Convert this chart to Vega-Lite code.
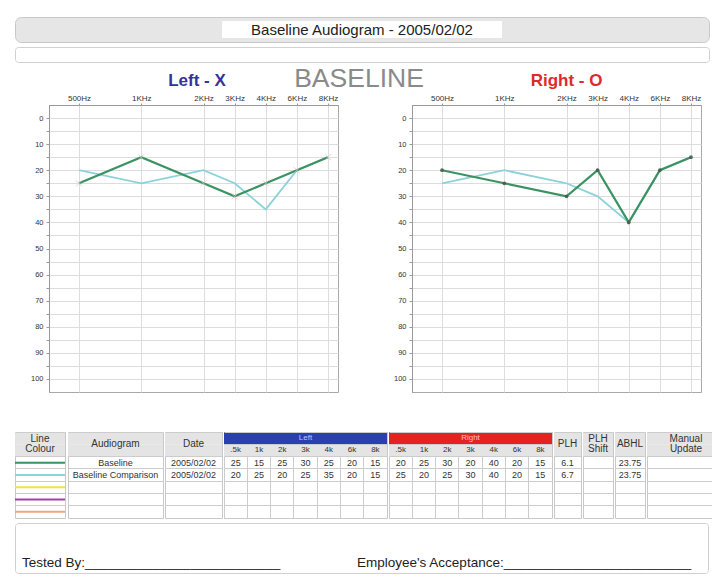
{
  "$schema": "https://vega.github.io/schema/vega-lite/v6.json",
  "padding": {"top": 16, "left": 13, "right": 2, "bottom": 2},
  "background": "white",
  "config": {
    "font": "Liberation Sans",
    "view": {"stroke": "#c8c8c8"}
  },
  "datasets": {
    "aud": [
      {"ear": "Left", "series": "Baseline", "freq": "500Hz", "short": ".5k", "db": 25},
      {"ear": "Left", "series": "Baseline", "freq": "1KHz", "short": "1k", "db": 15},
      {"ear": "Left", "series": "Baseline", "freq": "2KHz", "short": "2k", "db": 25},
      {"ear": "Left", "series": "Baseline", "freq": "3KHz", "short": "3k", "db": 30},
      {"ear": "Left", "series": "Baseline", "freq": "4KHz", "short": "4k", "db": 25},
      {"ear": "Left", "series": "Baseline", "freq": "6KHz", "short": "6k", "db": 20},
      {"ear": "Left", "series": "Baseline", "freq": "8KHz", "short": "8k", "db": 15},
      {"ear": "Left", "series": "Baseline Comparison", "freq": "500Hz", "short": ".5k", "db": 20},
      {"ear": "Left", "series": "Baseline Comparison", "freq": "1KHz", "short": "1k", "db": 25},
      {"ear": "Left", "series": "Baseline Comparison", "freq": "2KHz", "short": "2k", "db": 20},
      {"ear": "Left", "series": "Baseline Comparison", "freq": "3KHz", "short": "3k", "db": 25},
      {"ear": "Left", "series": "Baseline Comparison", "freq": "4KHz", "short": "4k", "db": 35},
      {"ear": "Left", "series": "Baseline Comparison", "freq": "6KHz", "short": "6k", "db": 20},
      {"ear": "Left", "series": "Baseline Comparison", "freq": "8KHz", "short": "8k", "db": 15},
      {"ear": "Right", "series": "Baseline", "freq": "500Hz", "short": ".5k", "db": 20},
      {"ear": "Right", "series": "Baseline", "freq": "1KHz", "short": "1k", "db": 25},
      {"ear": "Right", "series": "Baseline", "freq": "2KHz", "short": "2k", "db": 30},
      {"ear": "Right", "series": "Baseline", "freq": "3KHz", "short": "3k", "db": 20},
      {"ear": "Right", "series": "Baseline", "freq": "4KHz", "short": "4k", "db": 40},
      {"ear": "Right", "series": "Baseline", "freq": "6KHz", "short": "6k", "db": 20},
      {"ear": "Right", "series": "Baseline", "freq": "8KHz", "short": "8k", "db": 15},
      {"ear": "Right", "series": "Baseline Comparison", "freq": "500Hz", "short": ".5k", "db": 25},
      {"ear": "Right", "series": "Baseline Comparison", "freq": "1KHz", "short": "1k", "db": 20},
      {"ear": "Right", "series": "Baseline Comparison", "freq": "2KHz", "short": "2k", "db": 25},
      {"ear": "Right", "series": "Baseline Comparison", "freq": "3KHz", "short": "3k", "db": 30},
      {"ear": "Right", "series": "Baseline Comparison", "freq": "4KHz", "short": "4k", "db": 40},
      {"ear": "Right", "series": "Baseline Comparison", "freq": "6KHz", "short": "6k", "db": 20},
      {"ear": "Right", "series": "Baseline Comparison", "freq": "8KHz", "short": "8k", "db": 15}
    ],
    "rows": [
      {"series": "Baseline", "name": "Baseline", "date": "2005/02/02", "plh": "6.1", "abhl": "23.75"},
      {"series": "Baseline Comparison", "name": "Baseline Comparison", "date": "2005/02/02", "plh": "6.7", "abhl": "23.75"},
      {"series": "Series 3"},
      {"series": "Series 4"},
      {"series": "Series 5"}
    ]
  },
  "spacing": 3,
  "vconcat": [
    {
      "width": 694, "height": 25,
      "view": {"fill": "#e6e6e6", "stroke": "#c8c8c8", "cornerRadius": 6},
      "data": {"values": [{"title": "Baseline Audiogram - 2005/02/02"}]},
      "layer": [
        {"mark": {"type": "point", "shape": "M-1,-0.06H1V0.06H-1Z", "filled": true, "fill": "white", "opacity": 1, "size": 78400, "strokeWidth": 0}, "encoding": {}},
        {"mark": {"type": "text", "fontSize": 15, "color": "#222222"}, "encoding": {"text": {"field": "title"}}}
      ]
    },
    {
      "width": 694, "height": 15,
      "view": {"fill": "white", "stroke": "#d0d0d0", "cornerRadius": 3},
      "data": {"values": [{"t": ""}]},
      "mark": {"type": "text"},
      "encoding": {"text": {"field": "t"}}
    },
    {
      "spacing": 38,
      "vconcat": [
        {
          "spacing": 0,
          "hconcat": [
            {
              "width": 1, "height": 1,
              "view": {"stroke": null},
              "data": {"values": [{"t": ""}]},
              "mark": {"type": "text"},
              "encoding": {"text": {"field": "t"}}
            },
            {
              "title": {"text": "BASELINE", "fontSize": 26.5, "fontWeight": "normal", "color": "#8a8a8a", "anchor": "middle", "offset": -22},
              "spacing": 40,
              "hconcat": [
                {
                  "width": 289, "height": 287,
                  "view": {"stroke": "#a8a8a8"},
                  "data": {"name": "aud"},
                  "encoding": {
                    "x": {"field": "freq", "type": "ordinal",
                      "scale": {"type": "point", "domain": ["500Hz", "750Hz", "1KHz", "1.5KHz", "2KHz", "3KHz", "4KHz", "6KHz", "8KHz"], "padding": 0.643, "align": 0.75},
                      "axis": {"orient": "top", "title": "Left - X", "titleColor": "#333399", "titleFontSize": 17, "titleFontWeight": "bold", "titlePadding": 5, "titleX": 147.5,
                        "values": ["500Hz", "1KHz", "2KHz", "3KHz", "4KHz", "6KHz", "8KHz"], "labelFontSize": 8, "labelColor": "#333333", "labelAngle": 0, "labelPadding": 1,
                        "tickSize": 2, "tickColor": "#999999", "domainColor": "#999999", "grid": true, "gridColor": "#dddddd"}},
                    "y": {"field": "db", "type": "quantitative",
                      "scale": {"domain": [-5, 105], "reverse": true, "nice": false, "zero": false},
                      "axis": {"title": null, "values": [0, 5, 10, 15, 20, 25, 30, 35, 40, 45, 50, 55, 60, 65, 70, 75, 80, 85, 90, 95, 100],
                        "labelExpr": "datum.value % 10 === 0 ? datum.label : ''", "labelFontSize": 7.5, "labelColor": "#333333", "tickSize": 3, "labelPadding": 3,
                        "minExtent": 32, "grid": true, "gridColor": "#dddddd", "domainColor": "#999999", "tickColor": "#999999"}}
                  },
                  "layer": [
                    {"transform": [{"filter": "datum.ear === 'Left' && datum.series === 'Baseline Comparison'"}], "mark": {"type": "line", "strokeWidth": 1.8},
                      "encoding": {"color": {"field": "series", "type": "nominal", "scale": {"domain": ["Baseline", "Baseline Comparison", "Series 3", "Series 4", "Series 5"], "range": ["#3b9262", "#8cd2da", "#f2e43c", "#a440a8", "#f0a688"]}, "legend": null}}},
                    {"transform": [{"filter": "datum.ear === 'Left' && datum.series === 'Baseline'"}], "mark": {"type": "line", "strokeWidth": 2.2},
                      "encoding": {"color": {"field": "series", "type": "nominal", "scale": {"domain": ["Baseline", "Baseline Comparison", "Series 3", "Series 4", "Series 5"], "range": ["#3b9262", "#8cd2da", "#f2e43c", "#a440a8", "#f0a688"]}, "legend": null}}},
                    {"transform": [{"filter": "datum.ear === 'Left' && datum.series === 'Baseline'"}], "mark": {"type": "point", "shape": "M-1,-1L1,1M-1,1L1,-1", "color": "#d2c8c8", "size": 36, "strokeWidth": 1}}
                  ]
                },
                {
                  "width": 289, "height": 287,
                  "view": {"stroke": "#a8a8a8"},
                  "data": {"name": "aud"},
                  "encoding": {
                    "x": {"field": "freq", "type": "ordinal",
                      "scale": {"type": "point", "domain": ["500Hz", "750Hz", "1KHz", "1.5KHz", "2KHz", "3KHz", "4KHz", "6KHz", "8KHz"], "padding": 0.643, "align": 0.75},
                      "axis": {"orient": "top", "title": "Right - O", "titleColor": "#dd2a2a", "titleFontSize": 17, "titleFontWeight": "bold", "titlePadding": 5, "titleX": 154,
                        "values": ["500Hz", "1KHz", "2KHz", "3KHz", "4KHz", "6KHz", "8KHz"], "labelFontSize": 8, "labelColor": "#333333", "labelAngle": 0, "labelPadding": 1,
                        "tickSize": 2, "tickColor": "#999999", "domainColor": "#999999", "grid": true, "gridColor": "#dddddd"}},
                    "y": {"field": "db", "type": "quantitative",
                      "scale": {"domain": [-5, 105], "reverse": true, "nice": false, "zero": false},
                      "axis": {"title": null, "values": [0, 5, 10, 15, 20, 25, 30, 35, 40, 45, 50, 55, 60, 65, 70, 75, 80, 85, 90, 95, 100],
                        "labelExpr": "datum.value % 10 === 0 ? datum.label : ''", "labelFontSize": 7.5, "labelColor": "#333333", "tickSize": 3, "labelPadding": 3,
                        "minExtent": 32, "grid": true, "gridColor": "#dddddd", "domainColor": "#999999", "tickColor": "#999999"}}
                  },
                  "layer": [
                    {"transform": [{"filter": "datum.ear === 'Right' && datum.series === 'Baseline Comparison'"}], "mark": {"type": "line", "strokeWidth": 1.8},
                      "encoding": {"color": {"field": "series", "type": "nominal", "scale": {"domain": ["Baseline", "Baseline Comparison", "Series 3", "Series 4", "Series 5"], "range": ["#3b9262", "#8cd2da", "#f2e43c", "#a440a8", "#f0a688"]}, "legend": null}}},
                    {"transform": [{"filter": "datum.ear === 'Right' && datum.series === 'Baseline'"}], "mark": {"type": "line", "strokeWidth": 2.2},
                      "encoding": {"color": {"field": "series", "type": "nominal", "scale": {"domain": ["Baseline", "Baseline Comparison", "Series 3", "Series 4", "Series 5"], "range": ["#3b9262", "#8cd2da", "#f2e43c", "#a440a8", "#f0a688"]}, "legend": null}}},
                    {"transform": [{"filter": "datum.ear === 'Right' && datum.series === 'Baseline'"}], "mark": {"type": "circle", "size": 14, "color": "#4a5a50", "opacity": 0.9}}
                  ]
                }
              ]
            }
          ]
        },
        {
          "spacing": 3,
          "vconcat": [
            {
              "spacing": 0,
              "hconcat": [
                {
                  "width": 50, "height": 86,
                  "encoding": {"y": {"field": "series", "type": "nominal", "scale": {"type": "band", "domain": ["h1", "h2", "Baseline", "Baseline Comparison", "Series 3", "Series 4", "Series 5"], "paddingInner": 0, "paddingOuter": 0}, "axis": {"title": null, "labels": false, "ticks": false, "domain": false, "grid": true, "gridColor": "#cccccc", "bandPosition": 0, "minExtent": 0, "maxExtent": 0, "values": ["h1", "Baseline", "Baseline Comparison", "Series 3", "Series 4", "Series 5"]}}},
                  "layer": [
                    {"data": {"values": [{"series": "h1"}, {"series": "h2"}]}, "mark": {"type": "rect", "color": "#e4e4e4"}},
                    {"data": {"values": [{"series": "h1", "label": "Line\nColour"}]}, "mark": {"type": "text", "fontSize": 10, "color": "#333333", "lineBreak": "\n", "lineHeight": 10, "dy": 1}, "encoding": {"text": {"field": "label"}}},
                    {"data": {"name": "rows"}, "mark": {"type": "rule", "strokeWidth": 2},
                      "encoding": {"color": {"field": "series", "type": "nominal", "scale": {"domain": ["Baseline", "Baseline Comparison", "Series 3", "Series 4", "Series 5"], "range": ["#3b9262", "#8cd2da", "#f2e43c", "#a440a8", "#f0a688"]}, "legend": null}}}
                  ]
                },
                {
                  "width": 95, "height": 86,
                  "encoding": {"y": {"field": "series", "type": "nominal", "scale": {"type": "band", "domain": ["h1", "h2", "Baseline", "Baseline Comparison", "Series 3", "Series 4", "Series 5"], "paddingInner": 0, "paddingOuter": 0}, "axis": {"title": null, "labels": false, "ticks": false, "domain": false, "grid": true, "gridColor": "#cccccc", "bandPosition": 0, "minExtent": 0, "maxExtent": 0, "values": ["h1", "Baseline", "Baseline Comparison", "Series 3", "Series 4", "Series 5"]}}},
                  "layer": [
                    {"data": {"values": [{"series": "h1"}, {"series": "h2"}]}, "mark": {"type": "rect", "color": "#e4e4e4"}},
                    {"data": {"values": [{"series": "h1", "label": "Audiogram"}]}, "mark": {"type": "text", "fontSize": 10, "color": "#333333", "dy": 6}, "encoding": {"text": {"field": "label"}}},
                    {"data": {"name": "rows"}, "transform": [{"filter": "isValid(datum.name)"}], "mark": {"type": "text", "fontSize": 9, "color": "#333333"}, "encoding": {"text": {"field": "name"}}}
                  ]
                },
                {
                  "width": 57, "height": 86,
                  "encoding": {"y": {"field": "series", "type": "nominal", "scale": {"type": "band", "domain": ["h1", "h2", "Baseline", "Baseline Comparison", "Series 3", "Series 4", "Series 5"], "paddingInner": 0, "paddingOuter": 0}, "axis": {"title": null, "labels": false, "ticks": false, "domain": false, "grid": true, "gridColor": "#cccccc", "bandPosition": 0, "minExtent": 0, "maxExtent": 0, "values": ["h1", "Baseline", "Baseline Comparison", "Series 3", "Series 4", "Series 5"]}}},
                  "layer": [
                    {"data": {"values": [{"series": "h1"}, {"series": "h2"}]}, "mark": {"type": "rect", "color": "#e4e4e4"}},
                    {"data": {"values": [{"series": "h1", "label": "Date"}]}, "mark": {"type": "text", "fontSize": 10, "color": "#333333", "dy": 6}, "encoding": {"text": {"field": "label"}}},
                    {"data": {"name": "rows"}, "transform": [{"filter": "isValid(datum.date)"}], "mark": {"type": "text", "fontSize": 9, "color": "#333333"}, "encoding": {"text": {"field": "date"}}}
                  ]
                },
                {
                  "width": 163, "height": 86,
                  "encoding": {"y": {"field": "series", "type": "nominal", "scale": {"type": "band", "domain": ["h1", "h2", "Baseline", "Baseline Comparison", "Series 3", "Series 4", "Series 5"], "paddingInner": 0, "paddingOuter": 0}, "axis": {"title": null, "labels": false, "ticks": false, "domain": false, "grid": true, "gridColor": "#cccccc", "bandPosition": 0, "minExtent": 0, "maxExtent": 0}}},
                  "layer": [
                    {"data": {"values": [{"series": "h1"}]}, "mark": {"type": "rect", "color": "#2b3fae"}},
                    {"data": {"values": [{"series": "h2"}]}, "mark": {"type": "rect", "color": "#e4e4e4"}},
                    {"data": {"values": [{"series": "h1", "label": "Left"}]}, "mark": {"type": "text", "fontSize": 8, "color": "#b8c4ff"}, "encoding": {"text": {"field": "label"}}},
                    {"data": {"name": "aud"}, "transform": [{"filter": "datum.ear === 'Left' && datum.series === 'Baseline'"}], "mark": {"type": "text", "fontSize": 8, "color": "#333333"},
                      "encoding": {"x": {"field": "freq", "type": "ordinal", "scale": {"type": "band", "domain": ["500Hz", "1KHz", "2KHz", "3KHz", "4KHz", "6KHz", "8KHz"], "paddingInner": 0, "paddingOuter": 0}, "axis": {"title": null, "labels": false, "ticks": false, "domain": false, "grid": true, "gridColor": "#cccccc", "bandPosition": 0, "minExtent": 0, "maxExtent": 0, "orient": "bottom"}},
                        "y": {"datum": "h2", "type": "nominal"}, "text": {"field": "short"}}},
                    {"data": {"name": "aud"}, "transform": [{"filter": "datum.ear === 'Left'"}], "mark": {"type": "text", "fontSize": 9, "color": "#333333"},
                      "encoding": {"x": {"field": "freq", "type": "ordinal"}, "text": {"field": "db"}}}
                  ]
                },
                {
                  "width": 163, "height": 86,
                  "encoding": {"y": {"field": "series", "type": "nominal", "scale": {"type": "band", "domain": ["h1", "h2", "Baseline", "Baseline Comparison", "Series 3", "Series 4", "Series 5"], "paddingInner": 0, "paddingOuter": 0}, "axis": {"title": null, "labels": false, "ticks": false, "domain": false, "grid": true, "gridColor": "#cccccc", "bandPosition": 0, "minExtent": 0, "maxExtent": 0}}},
                  "layer": [
                    {"data": {"values": [{"series": "h1"}]}, "mark": {"type": "rect", "color": "#e42222"}},
                    {"data": {"values": [{"series": "h2"}]}, "mark": {"type": "rect", "color": "#e4e4e4"}},
                    {"data": {"values": [{"series": "h1", "label": "Right"}]}, "mark": {"type": "text", "fontSize": 8, "color": "#ffc0c0"}, "encoding": {"text": {"field": "label"}}},
                    {"data": {"name": "aud"}, "transform": [{"filter": "datum.ear === 'Right' && datum.series === 'Baseline'"}], "mark": {"type": "text", "fontSize": 8, "color": "#333333"},
                      "encoding": {"x": {"field": "freq", "type": "ordinal", "scale": {"type": "band", "domain": ["500Hz", "1KHz", "2KHz", "3KHz", "4KHz", "6KHz", "8KHz"], "paddingInner": 0, "paddingOuter": 0}, "axis": {"title": null, "labels": false, "ticks": false, "domain": false, "grid": true, "gridColor": "#cccccc", "bandPosition": 0, "minExtent": 0, "maxExtent": 0, "orient": "bottom"}},
                        "y": {"datum": "h2", "type": "nominal"}, "text": {"field": "short"}}},
                    {"data": {"name": "aud"}, "transform": [{"filter": "datum.ear === 'Right'"}], "mark": {"type": "text", "fontSize": 9, "color": "#333333"},
                      "encoding": {"x": {"field": "freq", "type": "ordinal"}, "text": {"field": "db"}}}
                  ]
                },
                {
                  "width": 27, "height": 86,
                  "encoding": {"y": {"field": "series", "type": "nominal", "scale": {"type": "band", "domain": ["h1", "h2", "Baseline", "Baseline Comparison", "Series 3", "Series 4", "Series 5"], "paddingInner": 0, "paddingOuter": 0}, "axis": {"title": null, "labels": false, "ticks": false, "domain": false, "grid": true, "gridColor": "#cccccc", "bandPosition": 0, "minExtent": 0, "maxExtent": 0, "values": ["h1", "Baseline", "Baseline Comparison", "Series 3", "Series 4", "Series 5"]}}},
                  "layer": [
                    {"data": {"values": [{"series": "h1"}, {"series": "h2"}]}, "mark": {"type": "rect", "color": "#e4e4e4"}},
                    {"data": {"values": [{"series": "h1", "label": "PLH"}]}, "mark": {"type": "text", "fontSize": 10, "color": "#333333", "dy": 6}, "encoding": {"text": {"field": "label"}}},
                    {"data": {"name": "rows"}, "transform": [{"filter": "isValid(datum.plh)"}], "mark": {"type": "text", "fontSize": 9, "color": "#333333"}, "encoding": {"text": {"field": "plh"}}}
                  ]
                },
                {
                  "width": 30, "height": 86,
                  "encoding": {"y": {"field": "series", "type": "nominal", "scale": {"type": "band", "domain": ["h1", "h2", "Baseline", "Baseline Comparison", "Series 3", "Series 4", "Series 5"], "paddingInner": 0, "paddingOuter": 0}, "axis": {"title": null, "labels": false, "ticks": false, "domain": false, "grid": true, "gridColor": "#cccccc", "bandPosition": 0, "minExtent": 0, "maxExtent": 0, "values": ["h1", "Baseline", "Baseline Comparison", "Series 3", "Series 4", "Series 5"]}}},
                  "layer": [
                    {"data": {"values": [{"series": "h1"}, {"series": "h2"}]}, "mark": {"type": "rect", "color": "#e4e4e4"}},
                    {"data": {"values": [{"series": "h1", "label": "PLH\nShift"}]}, "mark": {"type": "text", "fontSize": 10, "color": "#333333", "lineBreak": "\n", "lineHeight": 10, "dy": 1}, "encoding": {"text": {"field": "label"}}}
                  ]
                },
                {
                  "width": 30, "height": 86,
                  "encoding": {"y": {"field": "series", "type": "nominal", "scale": {"type": "band", "domain": ["h1", "h2", "Baseline", "Baseline Comparison", "Series 3", "Series 4", "Series 5"], "paddingInner": 0, "paddingOuter": 0}, "axis": {"title": null, "labels": false, "ticks": false, "domain": false, "grid": true, "gridColor": "#cccccc", "bandPosition": 0, "minExtent": 0, "maxExtent": 0, "values": ["h1", "Baseline", "Baseline Comparison", "Series 3", "Series 4", "Series 5"]}}},
                  "layer": [
                    {"data": {"values": [{"series": "h1"}, {"series": "h2"}]}, "mark": {"type": "rect", "color": "#e4e4e4"}},
                    {"data": {"values": [{"series": "h1", "label": "ABHL"}]}, "mark": {"type": "text", "fontSize": 10, "color": "#333333", "dy": 6}, "encoding": {"text": {"field": "label"}}},
                    {"data": {"name": "rows"}, "transform": [{"filter": "isValid(datum.abhl)"}], "mark": {"type": "text", "fontSize": 9, "color": "#333333"}, "encoding": {"text": {"field": "abhl"}}}
                  ]
                },
                {
                  "width": 78, "height": 86,
                  "encoding": {"y": {"field": "series", "type": "nominal", "scale": {"type": "band", "domain": ["h1", "h2", "Baseline", "Baseline Comparison", "Series 3", "Series 4", "Series 5"], "paddingInner": 0, "paddingOuter": 0}, "axis": {"title": null, "labels": false, "ticks": false, "domain": false, "grid": true, "gridColor": "#cccccc", "bandPosition": 0, "minExtent": 0, "maxExtent": 0, "values": ["h1", "Baseline", "Baseline Comparison", "Series 3", "Series 4", "Series 5"]}}},
                  "layer": [
                    {"data": {"values": [{"series": "h1"}, {"series": "h2"}]}, "mark": {"type": "rect", "color": "#e4e4e4"}},
                    {"data": {"values": [{"series": "h1", "label": "Manual\nUpdate"}]}, "mark": {"type": "text", "fontSize": 10, "color": "#333333", "lineBreak": "\n", "lineHeight": 10, "dy": 1}, "encoding": {"text": {"field": "label"}}}
                  ]
                }
              ]
            },
            {
              "width": 693, "height": 50,
              "view": {"stroke": "#d0d0d0", "cornerRadius": 3},
              "data": {"values": [
                {"k": "a", "label": "Tested By:__________________________"},
                {"k": "b", "label": "Employee's Acceptance:_________________________"}
              ]},
              "mark": {"type": "text", "align": "left", "fontSize": 13.5, "dy": 15, "color": "#222222"},
              "encoding": {
                "x": {"field": "k", "type": "nominal", "scale": {"type": "band", "paddingInner": 0, "paddingOuter": 0.0343, "align": 0.304}, "axis": null, "bandPosition": 0},
                "text": {"field": "label"}
              }
            }
          ]
        }
      ]
    }
  ]
}
